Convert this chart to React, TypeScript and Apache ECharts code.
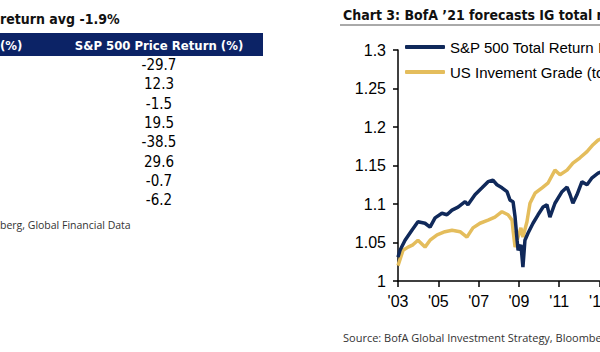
import React, { useEffect, useRef } from "react";
import * as echarts from "echarts";

// ---- Left table data ----
const tableTitle = "return avg -1.9%";
const tableHeaderLeft = "(%)";
const tableHeader = "S&P 500 Price Return (%)";
const priceReturns = [-29.7, 12.3, -1.5, 19.5, -38.5, 29.6, -0.7, -6.2];
const tableSource = "berg, Global Financial Data";

// ---- Right chart data ----
const chartTitle = "Chart 3: BofA \u201921 forecasts IG total return";
const chartSource = "Source: BofA Global Investment Strategy, Bloomberg";
const spName = "S&P 500 Total Return Index";
const igName = "US Invement Grade (total return)";

const spYears = [
  2003.0, 2003.1, 2003.35, 2003.69, 2003.99, 2004.34, 2004.59, 2004.84, 2005.18, 2005.43,
  2005.68, 2005.98, 2006.33, 2006.47, 2006.82, 2007.17, 2007.47, 2007.71, 2007.91, 2008.16,
  2008.41, 2008.56, 2008.71, 2008.81, 2008.91, 2008.96, 2009.1, 2009.2, 2009.3, 2009.45,
  2009.7, 2009.95, 2010.2, 2010.39, 2010.54, 2010.79, 2011.14, 2011.39, 2011.54, 2011.68,
  2011.88, 2012.13, 2012.38, 2012.63, 2012.93, 2013.2,
];
const spValues = [
  1.031, 1.04, 1.053, 1.066, 1.077, 1.075, 1.07, 1.082, 1.088, 1.086,
  1.092, 1.096, 1.103, 1.099, 1.112, 1.121, 1.129, 1.131, 1.125, 1.121,
  1.116, 1.105, 1.103, 1.083, 1.053, 1.04, 1.047, 1.018, 1.053, 1.062,
  1.075, 1.086, 1.096, 1.099, 1.083, 1.101, 1.116, 1.122, 1.112, 1.101,
  1.112, 1.129, 1.125, 1.134, 1.14, 1.143,
];

const igYears = [
  2003.0, 2003.25, 2003.5, 2003.74, 2003.99, 2004.34, 2004.59, 2004.94, 2005.33, 2005.68,
  2006.08, 2006.42, 2006.72, 2007.07, 2007.47, 2007.81, 2008.16, 2008.46, 2008.66, 2008.71,
  2008.81, 2008.96, 2009.1, 2009.2, 2009.4, 2009.55, 2009.8, 2010.15, 2010.44, 2010.79,
  2011.04, 2011.39, 2011.68, 2012.03, 2012.38, 2012.68, 2012.93, 2013.2,
];
const igValues = [
  1.02, 1.04, 1.044, 1.047, 1.053, 1.044, 1.053, 1.06, 1.064, 1.066,
  1.064, 1.057, 1.069, 1.075, 1.079, 1.083, 1.09, 1.086, 1.079, 1.066,
  1.044, 1.057, 1.069, 1.057, 1.077, 1.101, 1.114, 1.121, 1.127, 1.144,
  1.138, 1.144, 1.153, 1.16, 1.168, 1.177, 1.183, 1.186,
];

const startYear = 2003;
const endYear = 2013;

const NAVY = "#10295a";
const GOLD = "#e4bd5c";
const HEADER = "#0c2366";
const condensed = "'Liberation Sans Narrow', 'DejaVu Sans Condensed', 'Roboto Condensed', Arial, sans-serif";
const arial = "'Liberation Sans', Arial, sans-serif";
const openSans = "'Open Sans', 'Noto Sans', sans-serif";

export default function App() {
  const ref = useRef<HTMLDivElement>(null);

  useEffect(() => {
    if (!ref.current) return;
    const chart = echarts.init(ref.current, null, { renderer: "svg" });

    const graphics: any[] = [
      {
        type: "text",
        style: { text: tableTitle, x: 0, y: 19, font: `bold 14px ${condensed}`, fill: "#111", textVerticalAlign: "middle" },
      },
      {
        type: "rect",
        shape: { x: 0, y: 33, width: 263, height: 23 },
        style: { fill: HEADER },
      },
      {
        type: "text",
        style: { text: tableHeaderLeft, x: 0, y: 45, font: `bold 13px ${condensed}`, fill: "#fff", textVerticalAlign: "middle" },
      },
      {
        type: "text",
        style: { text: tableHeader, x: 159, y: 45, font: `bold 13px ${condensed}`, fill: "#fff", textAlign: "center", textVerticalAlign: "middle" },
      },
      ...priceReturns.map((v, i) => ({
        type: "text",
        style: {
          text: v.toFixed(1),
          x: 159,
          y: 65 + i * 19.3,
          font: `15px ${condensed}`,
          fill: "#000",
          textAlign: "center",
          textVerticalAlign: "middle",
        },
      })),
      {
        type: "text",
        style: { text: tableSource, x: 0, y: 225, font: `10.5px ${openSans}`, fill: "#333", textVerticalAlign: "middle" },
      },
      {
        type: "text",
        style: { text: chartTitle, x: 343, y: 15, font: `bold 14px ${condensed}`, fill: "#111", textVerticalAlign: "middle" },
      },
      {
        type: "line",
        shape: { x1: 340, y1: 25, x2: 600, y2: 25 },
        style: { stroke: "#555", lineWidth: 1 },
      },
      {
        type: "text",
        style: { text: chartSource, x: 343, y: 337, font: `11px ${openSans}`, fill: "#333", textVerticalAlign: "middle" },
      },
    ];

    chart.setOption({
      animation: false,
      backgroundColor: "#fff",
      graphic: graphics,
      grid: {
        left: 398,
        top: 50,
        width: (endYear - startYear) * 20.15,
        height: 231,
        containLabel: false,
        outerBoundsMode: "none",
      },
      legend: {
        orient: "vertical",
        left: 405,
        top: 38,
        padding: 0,
        itemGap: 7,
        itemWidth: 40,
        itemHeight: 4,
        icon: "roundRect",
        data: [spName, igName],
        textStyle: { fontSize: 15, color: "#000", fontFamily: arial, lineHeight: 18 },
      },
      xAxis: {
        type: "value",
        min: 0,
        max: endYear - startYear,
        interval: 2,
        axisLine: { show: true, lineStyle: { color: "#000", width: 1.5 } },
        axisTick: { show: true, length: 6, lineStyle: { color: "#000", width: 1.5 } },
        axisLabel: {
          fontSize: 16,
          color: "#000",
          fontFamily: arial,
          margin: 12,
          showMaxLabel: true,
          formatter: (v: number) => "'" + String(startYear + v).slice(2),
        },
        splitLine: { show: false },
      },
      yAxis: {
        type: "value",
        min: 1,
        max: 1.3,
        interval: 0.05,
        axisLine: { show: true, lineStyle: { color: "#000", width: 1.5 } },
        axisTick: { show: true, length: 5, lineStyle: { color: "#000", width: 1.5 } },
        axisLabel: { fontSize: 16, color: "#000", fontFamily: arial, margin: 12 },
        splitLine: { show: false },
      },
      series: [
        {
          name: igName,
          type: "line",
          color: GOLD,
          showSymbol: false,
          data: igYears.map((y, i) => [y - startYear, igValues[i]]),
          lineStyle: { color: GOLD, width: 3.5 },
          itemStyle: { color: GOLD },
        },
        {
          name: spName,
          type: "line",
          color: NAVY,
          showSymbol: false,
          data: spYears.map((y, i) => [y - startYear, spValues[i]]),
          lineStyle: { color: NAVY, width: 3.5 },
          itemStyle: { color: NAVY },
        },
      ],
    });

    return () => chart.dispose();
  }, []);

  return (
    <div
      ref={ref}
      style={{ position: "fixed", left: 0, top: 0, width: 600, height: 352, background: "#fff" }}
    />
  );
}
